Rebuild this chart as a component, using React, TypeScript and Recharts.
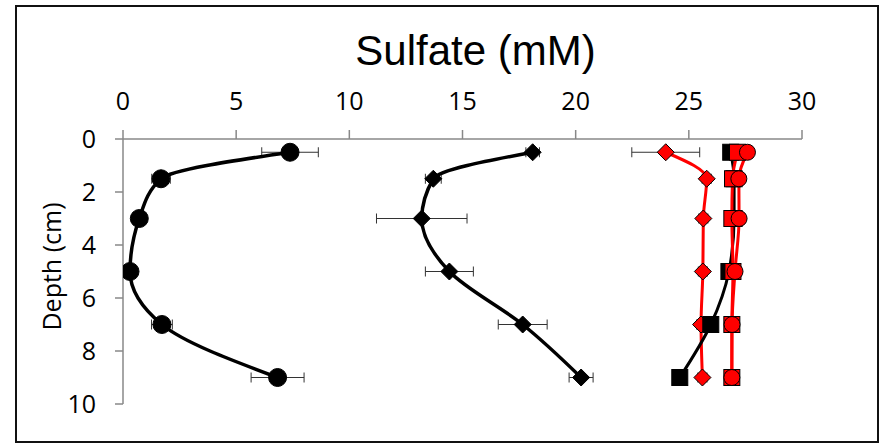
import React from 'react';
import { ComposedChart, Line, XAxis, YAxis, ErrorBar, Label } from 'recharts';

const depths = [0.5, 1.5, 3, 5, 7, 9];
const blackCircle = [7.38, 1.68, 0.72, 0.31, 1.72, 6.83];
const blackCircleErr = [1.25, 0.41, 0.3, 0.2, 0.46, 1.17];
const blackDiamond = [18.1, 13.71, 13.2, 14.42, 17.66, 20.24];
const blackDiamondErr = [0.3, 0.35, 2.0, 1.06, 1.08, 0.53];
const redDiamond = [23.98, 25.79, 25.64, 25.62, 25.54, 25.6];
const redDiamondErr = [1.5, 0.2, 0.2, 0.2, 0.2, 0.2];
const blackSquare = [26.85, 27.0, 27.0, 26.77, 25.97, 24.6];
const redSquare = [27.15, 26.93, 26.9, 26.95, 26.9, 26.9];
const redCircle = [27.59, 27.21, 27.22, 27.04, 26.91, 26.9];

const xTicks = [0, 5, 10, 15, 20, 25, 30];
const yTicks = [0, 2, 4, 6, 8, 10];

const data = depths.map((d, i) => ({
  depth: d,
  bc: blackCircle[i],
  bcErr: blackCircleErr[i],
  bd: blackDiamond[i],
  bdErr: blackDiamondErr[i],
  rd: redDiamond[i],
  rdErr: redDiamondErr[i],
  bs: blackSquare[i],
  rs: redSquare[i],
  rc: redCircle[i],
}));

const AXIS = '#888888';
const TICK_FONT = '"Open Sans", sans-serif';

const diamondDot = (fill: string, size: number) => (props: any) => {
  const { cx, cy, index } = props;
  if (cx == null || cy == null) return <g key={index} />;
  const h = size / 2;
  return (
    <path
      key={index}
      d={`M${cx},${cy - h}L${cx + h},${cy}L${cx},${cy + h}L${cx - h},${cy}Z`}
      fill={fill}
      stroke="#000"
      strokeWidth={1}
    />
  );
};

const squareDot = (fill: string, size: number) => (props: any) => {
  const { cx, cy, index } = props;
  if (cx == null || cy == null) return <g key={index} />;
  const h = size / 2;
  return <rect key={index} x={cx - h} y={cy - h} width={size} height={size} fill={fill} stroke="#000" strokeWidth={1} />;
};

const circleDot = (fill: string, r: number) => (props: any) => {
  const { cx, cy, index } = props;
  if (cx == null || cy == null) return <g key={index} />;
  return <circle key={index} cx={cx} cy={cy} r={r} fill={fill} stroke="#000" strokeWidth={1} />;
};

const XTick = (props: any) => {
  const { x, y, payload } = props;
  return (
    <text x={x} y={y} textAnchor="middle" fontFamily={TICK_FONT} fontSize={25} fill="#000">
      {payload.value}
    </text>
  );
};

const YTick = (props: any) => {
  const { x, y, payload } = props;
  return (
    <text x={x} y={y} dy="0.36em" textAnchor="end" fontFamily={TICK_FONT} fontSize={25} fill="#000">
      {payload.value}
    </text>
  );
};

const TitleLabel = (props: any) => {
  const vb = props.viewBox || { x: 123, y: 99, width: 679, height: 40 };
  const cx = vb.x + vb.width / 2 + 13;
  return (
    <text x={cx} y={65} textAnchor="middle" fontFamily='"Liberation Sans", Arial, sans-serif' fontSize={42} fill="#000">
      Sulfate (mM)
    </text>
  );
};

const DepthLabel = (props: any) => {
  const vb = props.viewBox || { x: 63, y: 139, width: 60, height: 265 };
  const x = 51;
  const y = vb.y + vb.height / 2 - 5;
  return (
    <text
      x={x}
      y={y}
      transform={`rotate(-90 ${x} ${y})`}
      textAnchor="middle"
      dominantBaseline="central"
      fontFamily={TICK_FONT}
      fontSize={25}
      fill="#000"
    >
      Depth (cm)
    </text>
  );
};

export default function App() {
  return (
    <div style={{ position: 'absolute', left: 0, top: 0, width: 883, height: 444, background: '#fff' }}>
      <div
        style={{
          position: 'absolute',
          left: 15,
          top: 5,
          width: 860,
          height: 434,
          border: '2px solid #111',
          pointerEvents: 'none',
        }}
      />
      <ComposedChart
        width={883}
        height={444}
        layout="vertical"
        data={data}
        margin={{ top: 99, right: 81, bottom: 40, left: 63 }}
      >
        <XAxis
          type="number"
          orientation="top"
          domain={[0, 30]}
          ticks={xTicks}
          height={40}
          tickSize={9}
          tickMargin={20}
          tick={<XTick />}
          axisLine={{ stroke: AXIS, strokeWidth: 1.5 }}
          tickLine={{ stroke: AXIS, strokeWidth: 1.5 }}
          allowDataOverflow
        >
          <Label content={<TitleLabel />} />
        </XAxis>
        <YAxis
          type="number"
          dataKey="depth"
          domain={[0, 10]}
          ticks={yTicks}
          width={60}
          tickSize={8}
          tickMargin={19}
          tick={<YTick />}
          axisLine={{ stroke: AXIS, strokeWidth: 1.5 }}
          tickLine={{ stroke: AXIS, strokeWidth: 1.5 }}
          allowDataOverflow
        >
          <Label content={<DepthLabel />} />
        </YAxis>

        <Line
          type="monotone"
          dataKey="bc"
          stroke="#000"
          strokeWidth={3.5}
          dot={circleDot('#000', 9)}
          activeDot={false}
          isAnimationActive={false}
        >
          <ErrorBar dataKey="bcErr" direction="x" width={5} stroke="#333" strokeWidth={1} />
        </Line>
        <Line
          type="monotone"
          dataKey="bd"
          stroke="#000"
          strokeWidth={3.5}
          dot={diamondDot('#000', 17)}
          activeDot={false}
          isAnimationActive={false}
        >
          <ErrorBar dataKey="bdErr" direction="x" width={5} stroke="#333" strokeWidth={1} />
        </Line>
        <Line
          type="monotone"
          dataKey="rd"
          stroke="#ff0000"
          strokeWidth={3}
          dot={diamondDot('#ff0000', 17)}
          activeDot={false}
          isAnimationActive={false}
        >
          <ErrorBar dataKey="rdErr" direction="x" width={5} stroke="#333" strokeWidth={1} />
        </Line>
        <Line
          type="monotone"
          dataKey="bs"
          stroke="#000"
          strokeWidth={3}
          dot={squareDot('#000', 16)}
          activeDot={false}
          isAnimationActive={false}
        />
        <Line
          type="monotone"
          dataKey="rs"
          stroke="#ff0000"
          strokeWidth={3}
          dot={squareDot('#ff0000', 16)}
          activeDot={false}
          isAnimationActive={false}
        />
        <Line
          type="monotone"
          dataKey="rc"
          stroke="#ff0000"
          strokeWidth={3}
          dot={circleDot('#ff0000', 8)}
          activeDot={false}
          isAnimationActive={false}
        />
      </ComposedChart>
    </div>
  );
}
